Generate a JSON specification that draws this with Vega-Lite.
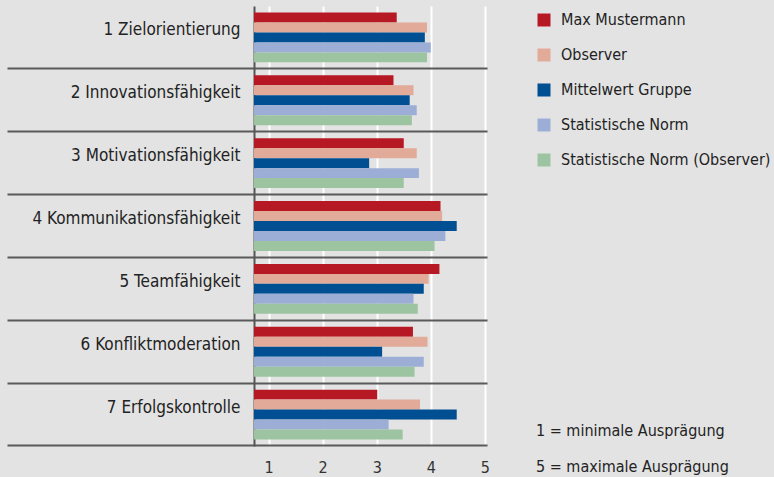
{
  "$schema": "https://vega.github.io/schema/vega-lite/v6.json",
  "autosize": "none",
  "width": 233,
  "height": 440,
  "padding": {"left": 254, "top": 6, "right": 287, "bottom": 31},
  "background": "#e3e3e3",
  "title": {
    "text": ["1 = minimale Ausprägung", "5 = maximale Ausprägung"],
    "orient": "bottom",
    "anchor": "start",
    "frame": "group",
    "dx": 282,
    "dy": -56,
    "font": "DejaVu Sans Condensed, Roboto, sans-serif",
    "fontSize": 16,
    "fontWeight": "normal",
    "color": "#222222",
    "lineHeight": 36
  },
  "config": {
    "view": {"stroke": null},
    "font": "DejaVu Sans Condensed, Roboto, sans-serif"
  },
  "data": {
    "values": [
      {"kategorie": "1 Zielorientierung", "reihe": "Max Mustermann", "wert": 3.37},
      {"kategorie": "1 Zielorientierung", "reihe": "Observer", "wert": 3.93},
      {"kategorie": "1 Zielorientierung", "reihe": "Mittelwert Gruppe", "wert": 3.89},
      {"kategorie": "1 Zielorientierung", "reihe": "Statistische Norm", "wert": 4.0},
      {"kategorie": "1 Zielorientierung", "reihe": "Statistische Norm (Observer)", "wert": 3.93},
      {"kategorie": "2 Innovationsfähigkeit", "reihe": "Max Mustermann", "wert": 3.31},
      {"kategorie": "2 Innovationsfähigkeit", "reihe": "Observer", "wert": 3.68},
      {"kategorie": "2 Innovationsfähigkeit", "reihe": "Mittelwert Gruppe", "wert": 3.61},
      {"kategorie": "2 Innovationsfähigkeit", "reihe": "Statistische Norm", "wert": 3.74},
      {"kategorie": "2 Innovationsfähigkeit", "reihe": "Statistische Norm (Observer)", "wert": 3.65},
      {"kategorie": "3 Motivationsfähigkeit", "reihe": "Max Mustermann", "wert": 3.5},
      {"kategorie": "3 Motivationsfähigkeit", "reihe": "Observer", "wert": 3.74},
      {"kategorie": "3 Motivationsfähigkeit", "reihe": "Mittelwert Gruppe", "wert": 2.86},
      {"kategorie": "3 Motivationsfähigkeit", "reihe": "Statistische Norm", "wert": 3.78},
      {"kategorie": "3 Motivationsfähigkeit", "reihe": "Statistische Norm (Observer)", "wert": 3.5},
      {"kategorie": "4 Kommunikationsfähigkeit", "reihe": "Max Mustermann", "wert": 4.18},
      {"kategorie": "4 Kommunikationsfähigkeit", "reihe": "Observer", "wert": 4.21},
      {"kategorie": "4 Kommunikationsfähigkeit", "reihe": "Mittelwert Gruppe", "wert": 4.48},
      {"kategorie": "4 Kommunikationsfähigkeit", "reihe": "Statistische Norm", "wert": 4.27},
      {"kategorie": "4 Kommunikationsfähigkeit", "reihe": "Statistische Norm (Observer)", "wert": 4.07},
      {"kategorie": "5 Teamfähigkeit", "reihe": "Max Mustermann", "wert": 4.16},
      {"kategorie": "5 Teamfähigkeit", "reihe": "Observer", "wert": 3.96},
      {"kategorie": "5 Teamfähigkeit", "reihe": "Mittelwert Gruppe", "wert": 3.87},
      {"kategorie": "5 Teamfähigkeit", "reihe": "Statistische Norm", "wert": 3.68},
      {"kategorie": "5 Teamfähigkeit", "reihe": "Statistische Norm (Observer)", "wert": 3.76},
      {"kategorie": "6 Konfliktmoderation", "reihe": "Max Mustermann", "wert": 3.67},
      {"kategorie": "6 Konfliktmoderation", "reihe": "Observer", "wert": 3.94},
      {"kategorie": "6 Konfliktmoderation", "reihe": "Mittelwert Gruppe", "wert": 3.1},
      {"kategorie": "6 Konfliktmoderation", "reihe": "Statistische Norm", "wert": 3.87},
      {"kategorie": "6 Konfliktmoderation", "reihe": "Statistische Norm (Observer)", "wert": 3.7},
      {"kategorie": "7 Erfolgskontrolle", "reihe": "Max Mustermann", "wert": 3.01},
      {"kategorie": "7 Erfolgskontrolle", "reihe": "Observer", "wert": 3.8},
      {"kategorie": "7 Erfolgskontrolle", "reihe": "Mittelwert Gruppe", "wert": 4.48},
      {"kategorie": "7 Erfolgskontrolle", "reihe": "Statistische Norm", "wert": 3.22},
      {"kategorie": "7 Erfolgskontrolle", "reihe": "Statistische Norm (Observer)", "wert": 3.48}
    ]
  },
  "mark": {"type": "bar", "clip": true},
  "encoding": {
    "y": {
      "field": "kategorie",
      "type": "nominal",
      "sort": null,
      "scale": {"paddingInner": 0, "paddingOuter": 0},
      "axis": {
        "title": null,
        "domain": true,
        "domainColor": "#555555",
        "domainWidth": 2,
        "ticks": true,
        "tickSize": 247,
        "tickColor": "#5a5a5a",
        "tickWidth": 2,
        "bandPosition": 1,
        "grid": true,
        "gridColor": "#5a5a5a",
        "gridWidth": 2,
        "labelPadding": -233,
        "labelOffset": -7,
        "labelLimit": 300,
        "labelFont": "DejaVu Sans Condensed, Roboto, sans-serif",
        "labelFontSize": 17,
        "labelColor": "#222222",
        "labelAlign": "right",
        "labelBaseline": "middle"
      }
    },
    "yOffset": {
      "field": "reihe",
      "type": "nominal",
      "sort": ["Max Mustermann", "Observer", "Mittelwert Gruppe", "Statistische Norm", "Statistische Norm (Observer)"],
      "scale": {"paddingInner": 0, "paddingOuter": 0.65}
    },
    "x": {
      "field": "wert",
      "type": "quantitative",
      "scale": {"domain": [0.73, 5.04], "zero": false, "nice": false},
      "axis": {
        "title": null,
        "values": [1, 2, 3, 4, 5],
        "domain": false,
        "ticks": false,
        "grid": true,
        "gridColor": "#ffffff",
        "gridWidth": 2,
        "labelPadding": 13,
        "labelFont": "DejaVu Sans Condensed, Roboto, sans-serif",
        "labelFontSize": 16,
        "labelColor": "#333333"
      }
    },
    "color": {
      "field": "reihe",
      "type": "nominal",
      "sort": ["Max Mustermann", "Observer", "Mittelwert Gruppe", "Statistische Norm", "Statistische Norm (Observer)"],
      "scale": {
        "domain": ["Max Mustermann", "Observer", "Mittelwert Gruppe", "Statistische Norm", "Statistische Norm (Observer)"],
        "range": ["#b61824", "#e2aa98", "#004f93", "#9caed6", "#9dc4a1"]
      },
      "legend": {
        "title": null,
        "orient": "none",
        "legendX": 282,
        "legendY": 6,
        "padding": 0,
        "symbolType": "square",
        "symbolSize": 169,
        "symbolStrokeWidth": 0,
        "labelFont": "DejaVu Sans Condensed, Roboto, sans-serif",
        "labelFontSize": 16,
        "labelColor": "#222222",
        "labelOffset": 9,
        "rowPadding": 19,
        "labelLimit": 300
      }
    }
  }
}
